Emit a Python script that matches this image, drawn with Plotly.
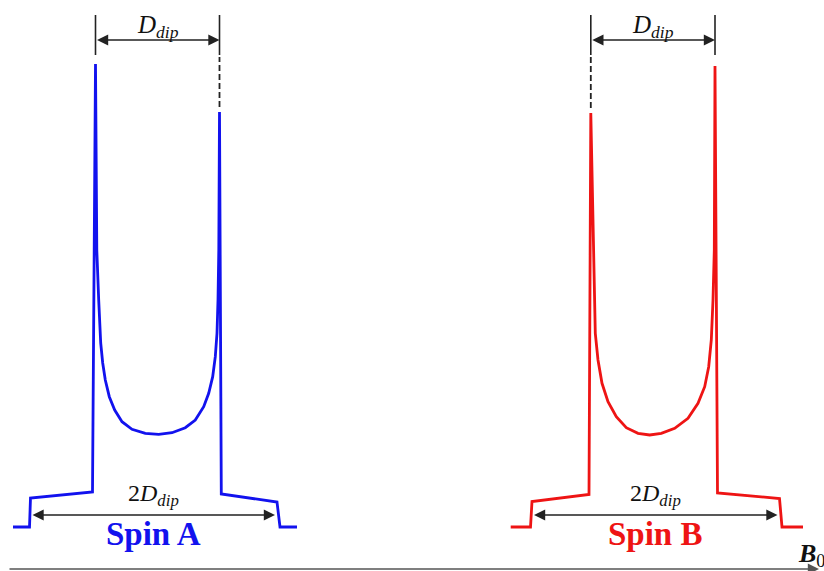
import plotly.graph_objects as go

# ---- data (field position, intensity; baseline = 0) ----
spin_a_field = [13, 29.5, 30.5, 91, 92.5, 95.5, 96.8, 98.7, 99.3, 100.7, 102.7, 105.3, 109.3,
                114.7, 122, 132, 145.3, 158.7, 172, 185.3, 195.3, 203.7, 208.7, 212.7, 215.3,
                217, 218, 218.8, 219.5, 221.3, 277, 280, 297]
spin_a_intensity = [0, 0, 29, 34.5, 35, 463, 277, 227, 207, 184, 164, 147, 130.3,
                    117, 105.3, 97.7, 93.7, 92.7, 94.3, 99.3, 107, 120.3, 133.7, 150.3, 170.3,
                    193.7, 227, 277, 415, 33, 25, 0, 0]

spin_b_field = [510.7, 530.5, 532, 587.5, 589, 590.8, 593.3, 594, 595.3, 598, 602, 608,
                616.3, 626.3, 638, 649.7, 661.3, 674.7, 688, 698, 704.7, 708.7, 711.3, 713,
                714.3, 715, 717.5, 779.5, 782, 803]
spin_b_intensity = [0, 0, 25.5, 32, 32.5, 414, 277, 227, 193.7, 167, 143.7, 125.3,
                    110.3, 99.3, 93.7, 92, 93.7, 98.7, 108.7, 123.7, 140.3, 160.3, 187, 227,
                    277, 461, 34, 28.5, 0, 0]

spin_labels = ["Spin A", "Spin B"]
d_label = "<i>D</i><sub><i>dip</i></sub>"
d2_label = "2<i>D</i><sub><i>dip</i></sub>"
axis_label = "<b><i>B</i></b><sub>0</sub>"

BLUE = "#1212ee"
RED = "#ee1414"
SERIF = "Liberation Serif, Times New Roman, serif"

fig = go.Figure()
fig.add_trace(go.Scatter(x=spin_a_field, y=spin_a_intensity, mode="lines",
                         line=dict(color=BLUE, width=2.8), hoverinfo="skip", showlegend=False))
fig.add_trace(go.Scatter(x=spin_b_field, y=spin_b_intensity, mode="lines",
                         line=dict(color=RED, width=2.8), hoverinfo="skip", showlegend=False))


def horns(fx, fy):
    # two largest local maxima = horn positions
    idx = [i for i in range(1, len(fy) - 1) if fy[i] > fy[i - 1] and fy[i] > fy[i + 1]]
    idx = sorted(sorted(idx, key=lambda i: fy[i])[-2:])
    return [(fx[i], fy[i]) for i in idx]


def edges(fx, fy):
    # outer shoulder steps (first and last non-zero points)
    nz = [i for i, v in enumerate(fy) if v > 0]
    return fx[nz[0]], fx[nz[-1]]


TOP_TICK = (472, 512)
TOP_ARROW = 487
BOTTOM_ARROW = 12

shapes = []
annotations = []
for fx, fy, color, name in [(spin_a_field, spin_a_intensity, BLUE, spin_labels[0]),
                            (spin_b_field, spin_b_intensity, RED, spin_labels[1])]:
    (x1, h1), (x2, h2) = horns(fx, fy)
    for xh, hh in [(x1, h1), (x2, h2)]:
        shapes.append(dict(type="line", x0=xh, x1=xh, y0=TOP_TICK[0], y1=TOP_TICK[1],
                           line=dict(color="#222222", width=1.6)))
        if hh < TOP_TICK[0] - 20:
            shapes.append(dict(type="line", x0=xh, x1=xh, y0=hh + 5, y1=TOP_TICK[0] - 2,
                               line=dict(color="#222222", width=1.8, dash="6px,3px")))
    # D_dip arrow
    annotations.append(dict(x=x2, y=TOP_ARROW, ax=x1, ay=TOP_ARROW, xref="x", yref="y",
                            axref="x", ayref="y", text="", showarrow=True, arrowside="end+start",
                            arrowhead=2, arrowsize=1.6, arrowwidth=1.4, arrowcolor="#222222",
                            standoff=0, startstandoff=0))
    annotations.append(dict(x=(x1 + x2) / 2, y=501, xref="x", yref="y", text=d_label,
                            showarrow=False, font=dict(family=SERIF, size=25, color="#111111")))
    e1, e2 = edges(fx, fy)
    annotations.append(dict(x=e2 - 2, y=BOTTOM_ARROW, ax=e1 + 0.5, ay=BOTTOM_ARROW, xref="x", yref="y",
                            axref="x", ayref="y", text="", showarrow=True, arrowside="end+start",
                            arrowhead=2, arrowsize=1.6, arrowwidth=1.4, arrowcolor="#222222",
                            standoff=0, startstandoff=0))
    annotations.append(dict(x=(e1 + e2) / 2, y=32, xref="x", yref="y", text=d2_label,
                            showarrow=False, font=dict(family=SERIF, size=24, color="#111111")))
    annotations.append(dict(x=(e1 + e2) / 2, y=-7, xref="x", yref="y", text="<b>" + name + "</b>",
                            showarrow=False, font=dict(family=SERIF, size=33, color=color)))

# B0 field axis
annotations.append(dict(x=819, y=-42, ax=8, ay=-42, xref="x", yref="y", axref="x", ayref="y",
                        text="", showarrow=True, arrowhead=2, arrowsize=1.4, arrowwidth=1.6,
                        arrowcolor="#555555", standoff=0))
annotations.append(dict(x=796, y=-28, xref="x", yref="y", text=axis_label, xanchor="left",
                        showarrow=False, font=dict(family=SERIF, size=26, color="#111111")))

fig.update_layout(
    width=824, height=571,
    margin=dict(l=0, r=0, t=0, b=0),
    paper_bgcolor="white", plot_bgcolor="white",
    xaxis=dict(range=[0, 824], visible=False, fixedrange=True),
    yaxis=dict(range=[-44, 527], visible=False, fixedrange=True),
    shapes=shapes, annotations=annotations,
)

fig.write_html("out.html")
